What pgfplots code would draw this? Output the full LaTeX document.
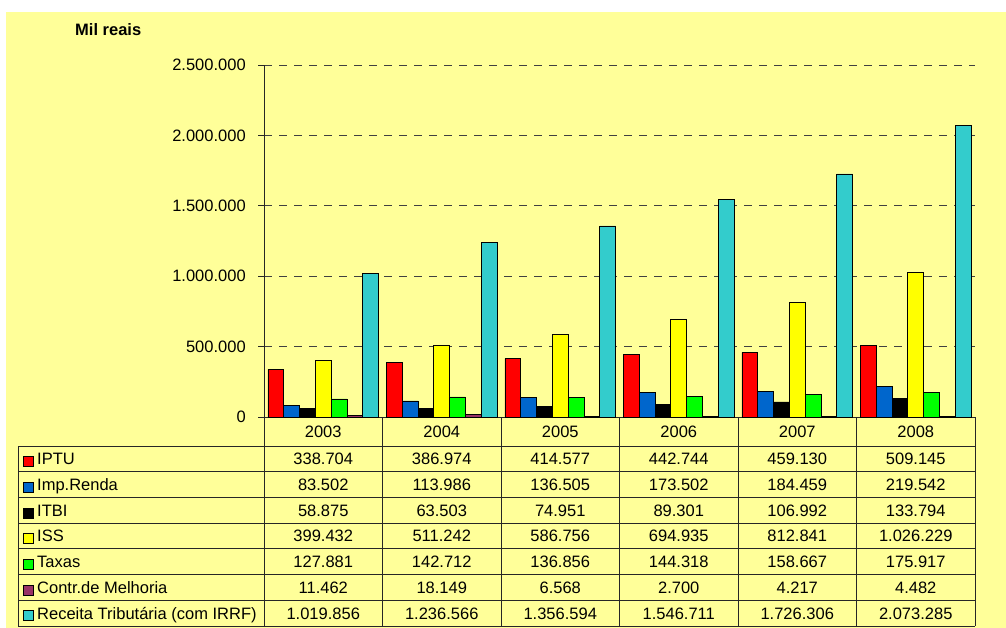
\documentclass[border=0pt]{standalone}
\usepackage{pgfplots}
\usepackage{pgfplotstable}
\pgfplotsset{compat=1.18}
\usepackage{fontspec}
\setmainfont{Liberation Sans}
\definecolor{bg}{HTML}{FFFF99}
\definecolor{cIPTU}{HTML}{FF0000}
\definecolor{cImp}{HTML}{0066CC}
\definecolor{cITBI}{HTML}{000000}
\definecolor{cISS}{HTML}{FFFF00}
\definecolor{cTaxas}{HTML}{00FF00}
\definecolor{cContr}{HTML}{993366}
\definecolor{cReceita}{HTML}{33CCCC}

\pgfplotstableread{
x year IPTU Imp ITBI ISS Taxas Contr Receita
0 2003 338704 83502 58875 399432 127881 11462 1019856
1 2004 386974 113986 63503 511242 142712 18149 1236566
2 2005 414577 136505 74951 586756 136856 6568 1356594
3 2006 442744 173502 89301 694935 144318 2700 1546711
4 2007 459130 184459 106992 812841 158667 4217 1726306
5 2008 509145 219542 133794 1026229 175917 4482 2073285
}\data

\begin{document}
\fontsize{16.5}{19.8}\selectfont
\begin{tikzpicture}
\begin{scope}[x=1pt,y=-1pt]
\fill[white] (0,0) rectangle (1006,628);
\fill[bg] (6,12) rectangle (1006,628);
\node[anchor=base west, inner sep=0pt, font=\bfseries] at (75,35.5) {Mil reais};
\end{scope}

\begin{axis}[
  at={(264pt,-417pt)}, anchor=south west,
  scale only axis, width=711pt, height=352pt,
  xmin=-0.5, xmax=5.5, ymin=0, ymax=2500000,
  xtick=\empty,
  ytick={0,500000,1000000,1500000,2000000,2500000},
  scaled y ticks=false,
  /pgf/number format/fixed,
  /pgf/number format/precision=0,
  /pgf/number format/1000 sep={.},
  /pgf/number format/assume math mode=true,
  yticklabel style={xshift=-6.6pt},
  axis x line*=bottom, axis y line*=left,
  axis line style={draw=black!85, line width=0.8pt},
  tick align=outside, major tick length=6pt,
  tick style={draw=black!85, line width=0.8pt},
  ymajorgrids,
  major grid style={draw=black!75, line width=0.9pt, dash pattern=on 8pt off 7pt},
  ybar=0pt, bar width=15.8pt,
  every axis plot/.append style={draw=black, line width=0.8pt},
  clip=false,
]
\addplot[fill=cIPTU] table[x=x,y=IPTU]{\data};
\addplot[fill=cImp] table[x=x,y=Imp]{\data};
\addplot[fill=cITBI] table[x=x,y=ITBI]{\data};
\addplot[fill=cISS] table[x=x,y=ISS]{\data};
\addplot[fill=cTaxas] table[x=x,y=Taxas]{\data};
\addplot[fill=cContr] table[x=x,y=Contr]{\data};
\addplot[fill=cReceita] table[x=x,y=Receita]{\data};
\end{axis}

\begin{scope}[x=1pt,y=-1pt]
\def\rh{25.714}
% grid lines of the table
\foreach \i in {0,...,7} {
  \draw[black!85, line width=0.8pt] (18,446+\i*\rh) -- (975,446+\i*\rh);
}
\draw[black!85, line width=0.8pt] (18,446) -- (18,626);
\foreach \k in {0,...,6} {
  \draw[black!85, line width=0.8pt] (264+\k*118.5,417) -- (264+\k*118.5,626);
}
% years
\foreach \k in {0,...,5} {
  \pgfplotstablegetelem{\k}{year}\of\data
  \node[anchor=base, inner sep=0pt] at (264+\k*118.5+59.25,431.5+5.9) {\pgfplotsretval};
}
% rows
\foreach \c/\lab/\col [count=\r from 0] in {IPTU/IPTU/cIPTU, Imp/Imp.Renda/cImp, ITBI/ITBI/cITBI, ISS/ISS/cISS, Taxas/Taxas/cTaxas, Contr/Contr.de Melhoria/cContr, Receita/Receita Tributária (com IRRF)/cReceita} {
  \pgfmathsetmacro\cy{446+(\r+0.5)*\rh}
  \filldraw[fill=\col, draw=black, line width=0.8pt] (23,\cy-2.3) rectangle (33.5,\cy+7.7);
  \node[anchor=base west, inner sep=0pt] at (37,\cy+5.9) {\lab};
  \foreach \k in {0,...,5} {
    \pgfplotstablegetelem{\k}{\c}\of\data
    \node[anchor=base, inner sep=0pt] at (264+\k*118.5+59.25,\cy+5.9)
      {\pgfmathprintnumber[fixed, precision=0, 1000 sep={.}, assume math mode=true]{\pgfplotsretval}};
  }
}
\end{scope}
\end{tikzpicture}
\end{document}
